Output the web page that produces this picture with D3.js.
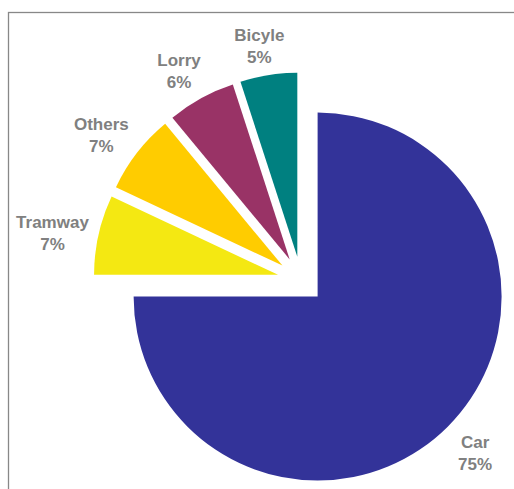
<!DOCTYPE html>
<html>
<head>
<meta charset="utf-8">
<script src="https://cdnjs.cloudflare.com/ajax/libs/d3/7.8.5/d3.min.js"></script>
<style>
  html, body { margin: 0; padding: 0; background: #ffffff; }
  svg { display: block; }
  text { font-family: "Liberation Sans", Arial, sans-serif; font-weight: bold; font-size: 17px; fill: #808080; }
</style>
</head>
<body>
<svg id="chart" width="514" height="489"></svg>
<script>
// Share of trips by mode of transport (%)
const modes = ["Car", "Tramway", "Others", "Lorry", "Bicyle"];
const shares = [75, 7, 7, 6, 5];
const colors = ["#333399", "#f4e812", "#ffcc00", "#993366", "#008080"];

const svg = d3.select("#chart");

// chart frame (only top and left edges fall inside the view)
svg.append("rect")
  .attr("x", 8.5).attr("y", 12.5)
  .attr("width", 700).attr("height", 700)
  .attr("fill", "none")
  .attr("stroke", "#888888")
  .attr("stroke-width", 1.3);

const cx = 301, cy = 280;
const radius = 184;
const explode = 23.5;
const labelGap = 5;
const labelTurn = -1 * Math.PI / 180;   // small counter-clockwise turn of label direction
const labelTopPad = 10;                  // label box padding above the text

const pie = d3.pie().sort(null).value(d => d.value).startAngle(0).endAngle(2 * Math.PI);
const arc = d3.arc().innerRadius(0).outerRadius(radius);

const data = modes.map((m, i) => ({ name: m, value: shares[i], color: colors[i] }));
const arcs = pie(data);

const g = svg.append("g").attr("transform", `translate(${cx},${cy})`);

const mid = a => (a.startAngle + a.endAngle) / 2;
const dir = ang => [Math.sin(ang), -Math.cos(ang)];

// exploded slices, each pushed out along its bisector
const slices = g.selectAll("g.slice")
  .data(arcs)
  .join("g")
  .attr("class", "slice")
  .attr("transform", d => {
    const [ux, uy] = dir(mid(d));
    return `translate(${ux * explode},${uy * explode})`;
  });

slices.append("path")
  .attr("d", arc)
  .attr("fill", d => d.data.color);

// labels placed just outside the outer end of each slice
const labels = slices.append("g").attr("class", "label");

labels.append("text")
  .attr("text-anchor", "middle")
  .attr("y", -5)
  .text(d => d.data.name);
labels.append("text")
  .attr("text-anchor", "middle")
  .attr("y", 17)
  .text(d => d3.format(".0%")(d.data.value / 100));

labels.each(function(d) {
  const bb = this.getBBox();
  // label box = text bounds plus padding on top
  const bx = bb.x, by = bb.y - labelTopPad;
  const bw = bb.width, bh = bb.height + labelTopPad;
  const hw = bw / 2, hh = bh / 2;
  const bcx = bx + hw, bcy = by + hh;
  const [ux, uy] = dir(mid(d) + labelTurn);
  const reach = Math.abs(ux) * hw + Math.abs(uy) * hh;
  const dist = radius + labelGap + reach;
  const px = ux * dist - bcx, py = uy * dist - bcy;
  d3.select(this).attr("transform", `translate(${px},${py})`);
});
</script>
</body>
</html>
